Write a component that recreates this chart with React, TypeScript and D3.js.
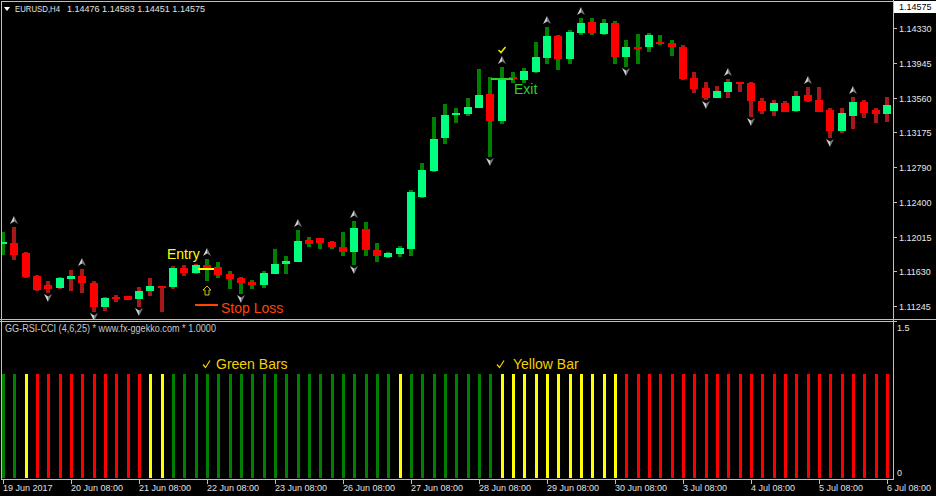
import React from 'react';
import * as d3 from 'd3';

const W = 936;
const H = 496;

// EURUSD H4, 79 bars: 19 Jun 2017 08:00 -> 6 Jul 2017 08:00
const opens = [
  1.11934, 1.11945, 1.11834, 1.11578, 1.11478, 1.11445, 1.11545, 1.11578, 1.11501, 1.11234,
  1.11345, 1.11356, 1.11323, 1.11412, 1.11467, 1.11456, 1.11667, 1.11612, 1.11701, 1.11678,
  1.11601, 1.11556, 1.11512, 1.11478, 1.11601, 1.11712, 1.11734, 1.11978, 1.12001, 1.11956,
  1.11901, 1.11845, 1.12101, 1.11867, 1.11789, 1.11823, 1.11878, 1.12456, 1.12745, 1.13112,
  1.13367, 1.13378, 1.13445, 1.13601, 1.13301, 1.13789, 1.13756, 1.13845, 1.14001, 1.14245,
  1.13989, 1.14278, 1.14401, 1.14267, 1.14389, 1.14012, 1.14123, 1.14123, 1.14178, 1.14167,
  1.14123, 1.13778, 1.13667, 1.13556, 1.13623, 1.13734, 1.13723, 1.13523, 1.13412, 1.13501,
  1.13412, 1.13589, 1.13534, 1.13423, 1.13189, 1.13356, 1.13512, 1.13423, 1.13378,
];
const highs = [
  1.12067, 1.12123, 1.11845, 1.11589, 1.11523, 1.11567, 1.11645, 1.11656, 1.11523, 1.11345,
  1.11367, 1.11356, 1.11456, 1.11556, 1.11467, 1.11689, 1.11701, 1.11712, 1.11767, 1.11734,
  1.11634, 1.11567, 1.11534, 1.11634, 1.11878, 1.11801, 1.12089, 1.12012, 1.12001, 1.11967,
  1.12067, 1.12189, 1.12178, 1.11945, 1.11845, 1.11912, 1.12534, 1.12834, 1.13345, 1.13489,
  1.13445, 1.13556, 1.13878, 1.13789, 1.13901, 1.13845, 1.13889, 1.14178, 1.14345, 1.14256,
  1.14312, 1.14445, 1.14445, 1.14434, 1.14412, 1.14201, 1.14267, 1.14278, 1.14256, 1.14201,
  1.14145, 1.13845, 1.13734, 1.13689, 1.13767, 1.13734, 1.13734, 1.13556, 1.13534, 1.13523,
  1.13634, 1.13678, 1.13678, 1.13445, 1.13445, 1.13567, 1.13534, 1.13445, 1.13567,
];
const lows = [
  1.11812, 1.11756, 1.11556, 1.11412, 1.11389, 1.11434, 1.11412, 1.11389, 1.11178, 1.11189,
  1.11289, 1.11312, 1.11234, 1.11356, 1.11178, 1.11434, 1.11578, 1.11601, 1.11523, 1.11556,
  1.11434, 1.11378, 1.11434, 1.11445, 1.11601, 1.11601, 1.11734, 1.11901, 1.11878, 1.11878,
  1.11801, 1.11701, 1.11801, 1.11734, 1.11778, 1.11789, 1.11801, 1.12445, 1.12734, 1.13045,
  1.13278, 1.13356, 1.13445, 1.12901, 1.13267, 1.13723, 1.13723, 1.13834, 1.13934, 1.13867,
  1.13934, 1.14256, 1.14256, 1.14256, 1.13934, 1.13901, 1.13934, 1.14067, 1.14145, 1.14023,
  1.13756, 1.13612, 1.13534, 1.13556, 1.13556, 1.13623, 1.13345, 1.13378, 1.13356, 1.13401,
  1.13401, 1.13512, 1.13401, 1.13112, 1.13167, 1.13212, 1.13334, 1.13278, 1.13289,
];
const closes = [
  1.11956, 1.11812, 1.11567, 1.11423, 1.11434, 1.11556, 1.11578, 1.11501, 1.11234, 1.11334,
  1.11323, 1.11312, 1.11412, 1.11467, 1.11445, 1.11667, 1.11612, 1.11701, 1.11667, 1.11589,
  1.11545, 1.11501, 1.11478, 1.11612, 1.11712, 1.11745, 1.11967, 1.11934, 1.11945, 1.11901,
  1.11845, 1.12112, 1.11867, 1.11801, 1.11834, 1.11889, 1.12512, 1.12756, 1.13101, 1.13367,
  1.13389, 1.13456, 1.13589, 1.13301, 1.13778, 1.13767, 1.13856, 1.14012, 1.14245, 1.13989,
  1.14289, 1.14389, 1.14278, 1.14389, 1.14012, 1.14123, 1.14112, 1.14256, 1.14156, 1.14123,
  1.13767, 1.13656, 1.13556, 1.13634, 1.13734, 1.13723, 1.13523, 1.13412, 1.13501, 1.13401,
  1.13578, 1.13523, 1.13401, 1.13189, 1.13389, 1.13512, 1.13389, 1.13378, 1.13478,
];

// wick overlay trend: u = dark green, d = dark red
const wickTrend = (
  'uddddddddd' + 'dddddddduu' + 'uuuuuuuuuu' + 'uuuuuuuuuu' +
  'uuuuuuuuuu' + 'uuuuuuuuuu' + 'dddddddddd' + 'ddddddddd'
).split('');

// GG-RSI-CCI histogram state per bar (G green, Y yellow, R red), all at 1.0
const ggState = (
  'GGYRRRRRRR' + 'RRRYYGGGGG' + 'GGGGGGGGGG' + 'GGGGGYGGGG' +
  'GGGGYYYYYY' + 'YYYYYRRRRR' + 'RRRRRRRRRR' + 'RRRRRRRRR'
).split('');
const ggValue = 1.0;

const upFractals = [1, 7, 18, 26, 31, 44, 48, 51, 64, 71, 75];
const downFractals = [4, 8, 12, 21, 31, 43, 55, 62, 66, 73];

const priceTicks = [1.1433, 1.13945, 1.1356, 1.13175, 1.1279, 1.124, 1.12015, 1.1163, 1.11245];
const priceTickLabels = ['1.14330', '1.13945', '1.13560', '1.13175', '1.12790', '1.12400', '1.12015', '1.11630', '1.11245'];
const lastPrice = 1.14575;

const dateBars = [0, 6, 12, 18, 24, 30, 36, 42, 48, 54, 60, 66, 72, 78];
const dateLabels = [
  '19 Jun 2017', '20 Jun 08:00', '21 Jun 08:00', '22 Jun 08:00', '23 Jun 08:00',
  '26 Jun 08:00', '27 Jun 08:00', '28 Jun 08:00', '29 Jun 08:00', '30 Jun 08:00',
  '3 Jul 08:00', '4 Jul 08:00', '5 Jul 08:00', '6 Jul 08:00',
];

// trade annotations
const entryBar = 18;
const entryPrice = 1.11667;
const stopPrice = 1.11267;
const exitBar = 44;
const exitPrice = 1.13778;

const FONT = '"Liberation Sans", Arial, sans-serif';
const GRID = '#c0c0c0';
const BULL = '#00ff7f';
const BEAR = '#ff0000';
const WICK_UP = '#008000';
const WICK_DN = '#a81818';
const GG_COLORS: Record<string, string> = { G: '#008000', Y: '#ffff00', R: '#ff0000' };

const upArrow = (cx: number, cy: number, key: string) => (
  <g key={key} transform={`translate(${cx},${cy})`} shapeRendering="auto">
    <path d="M0,-4 L0,1.5 L-4,4 Z" fill="#d0d0d0" />
    <path d="M0,-4 L4,4 L0,1.5 Z" fill="#7a7a7a" />
  </g>
);
const downArrow = (cx: number, cy: number, key: string) => (
  <g key={key} transform={`translate(${cx},${cy})`} shapeRendering="auto">
    <path d="M0,4 L0,-1.5 L-4,-4 Z" fill="#d0d0d0" />
    <path d="M0,4 L4,-4 L0,-1.5 Z" fill="#7a7a7a" />
  </g>
);

const App: React.FC = () => {
  const x = d3.scaleLinear().domain([0, opens.length - 1]).range([3, 887]);
  const y = d3.scaleLinear().domain([1.11245, 1.13945]).range([306, 63]);
  const yi = d3.scaleLinear().domain([0, 1.5]).range([478, 322]);
  const px = (i: number) => Math.round(x(i));
  const py = (v: number) => Math.round(y(v));

  const axisX = 893.5;

  return (
    <svg
      width={W}
      height={H}
      style={{ position: 'absolute', left: 0, top: 0, background: '#000' }}
      shapeRendering="crispEdges"
    >
      <defs>
        <clipPath id="mainClip">
          <rect x={2} y={2} width={891} height={317} />
        </clipPath>
        <clipPath id="indClip">
          <rect x={2} y={322} width={891} height={157} />
        </clipPath>
      </defs>
      <rect width={W} height={H} fill="#000" />

      {/* candles */}
      <g clipPath="url(#mainClip)">
        {opens.map((o, i) => {
          const c = closes[i];
          const cx = px(i);
          const top = py(Math.max(o, c));
          const bot = py(Math.min(o, c));
          const hi = py(highs[i]);
          const lo = py(lows[i]);
          return (
            <g key={i}>
              <rect x={cx - 2} y={hi} width={4} height={Math.max(1, lo - hi)}
                fill={wickTrend[i] === 'u' ? WICK_UP : WICK_DN} />
              <rect x={cx - 4} y={top} width={8} height={Math.max(2, bot - top)}
                fill={c >= o ? BULL : BEAR} />
            </g>
          );
        })}
        {upFractals.map((i) => upArrow(px(i), py(highs[i]) - 7, `u${i}`))}
        {downFractals.map((i) => downArrow(px(i), py(lows[i]) + 5, `d${i}`))}

        {/* entry */}
        <line x1={px(entryBar) - 9} x2={px(entryBar) + 7} y1={py(entryPrice) + 0.5} y2={py(entryPrice) + 0.5}
          stroke="#ffff00" strokeWidth={2} />
        <text x={px(entryBar) - 40} y={259} fill="#ffff00" fontFamily={FONT} fontSize={14}>Entry</text>
        <path
          transform={`translate(${px(entryBar)},${py(entryPrice) + 23})`}
          d="M0,-5 L4,-1 L2,-1 L2,4 L-2,4 L-2,-1 L-4,-1 Z"
          fill="none" stroke="#c8c800" strokeWidth={1} shapeRendering="auto"
        />
        <line x1={px(entryBar) - 12} x2={px(entryBar) + 11} y1={py(stopPrice) + 0.5} y2={py(stopPrice) + 0.5}
          stroke="#ff4500" strokeWidth={2} />
        <text x={px(entryBar) + 14} y={313} fill="#ff4500" fontFamily={FONT} fontSize={14}>Stop Loss</text>

        {/* exit */}
        <line x1={px(exitBar) - 11} x2={px(exitBar) + 11} y1={py(exitPrice) + 0.5} y2={py(exitPrice) + 0.5}
          stroke="#32cd32" strokeWidth={2} />
        <text x={px(exitBar) + 12} y={94} fill="#32cd32" fontFamily={FONT} fontSize={14}>Exit</text>
        <path
          transform={`translate(${px(exitBar)},${py(highs[exitBar]) - 17})`}
          d="M-3.5,0 L-1,2.5 L3.5,-3"
          fill="none" stroke="#e8e800" strokeWidth={1.6} shapeRendering="auto"
        />
      </g>

      {/* GG-RSI-CCI histogram */}
      <g clipPath="url(#indClip)">
        {ggState.map((s, i) => (
          <rect key={i} x={px(i) - 1} y={Math.round(yi(ggValue))} width={3}
            height={Math.round(yi(0)) - Math.round(yi(ggValue))} fill={GG_COLORS[s]} />
        ))}
      </g>
      <text x={5} y={332} fill="#c8c8c8" fontFamily={FONT} fontSize={10} textLength={211} lengthAdjust="spacingAndGlyphs">
        GG-RSI-CCI (4,6,25) * www.fx-ggekko.com *  1.0000
      </text>
      <path d="M203,364.5 L205.5,367.5 L210,360.5" fill="none" stroke="#f2d000" strokeWidth={1.2} shapeRendering="auto" />
      <text x={216} y={369} fill="#f2d000" fontFamily={FONT} fontSize={14}>Green Bars</text>
      <path d="M497,364.5 L499.5,367.5 L504,360.5" fill="none" stroke="#f2d000" strokeWidth={1.2} shapeRendering="auto" />
      <text x={513} y={369} fill="#f2d000" fontFamily={FONT} fontSize={14}>Yellow Bar</text>

      {/* frame */}
      <line x1={1} x2={axisX} y1={1.5} y2={1.5} stroke={GRID} />
      <line x1={1.5} x2={1.5} y1={1} y2={480} stroke={GRID} />
      <line x1={axisX} x2={axisX} y1={0} y2={480} stroke={GRID} />
      <line x1={0} x2={W} y1={319.5} y2={319.5} stroke={GRID} />
      <line x1={0} x2={axisX + 3} y1={321.5} y2={321.5} stroke={GRID} />
      <line x1={1} x2={axisX} y1={479.5} y2={479.5} stroke={GRID} />

      {/* header */}
      <path d="M4,7 L10,7 L7,11 Z" fill="#ffffff" shapeRendering="auto" />
      <text x={15} y={12} fill="#e0e0e0" fontFamily={FONT} fontSize={9} textLength={45} lengthAdjust="spacingAndGlyphs">EURUSD,H4</text>
      <text x={67} y={12} fill="#e0e0e0" fontFamily={FONT} fontSize={9} textLength={138} lengthAdjust="spacingAndGlyphs">
        1.14476 1.14583 1.14451 1.14575
      </text>

      {/* price axis */}
      {priceTicks.map((v, k) => (
        <g key={k}>
          <line x1={axisX} x2={axisX + 3} y1={py(v) + 0.5} y2={py(v) + 0.5} stroke={GRID} />
          <text x={899} y={py(v) + 4} fill="#e6e6e6" fontFamily={FONT} fontSize={9}>{priceTickLabels[k]}</text>
        </g>
      ))}
      <rect x={894.5} y={py(lastPrice) - 4.5} width={41} height={11} fill="#ffffff" stroke="#ffffff" />
      <text x={899} y={py(lastPrice) + 4} fill="#000" fontFamily={FONT} fontSize={9}>1.14575</text>

      {/* indicator axis */}
      <text x={897} y={331} fill="#e6e6e6" fontFamily={FONT} fontSize={9}>1.5</text>
      <text x={897} y={476} fill="#e6e6e6" fontFamily={FONT} fontSize={9}>0</text>

      {/* time axis */}
      {dateBars.map((b, k) => (
        <g key={k}>
          <line x1={px(b) + 0.5} x2={px(b) + 0.5} y1={479} y2={484} stroke={GRID} />
          <text x={px(b)} y={491} fill="#e0e0e0" fontFamily={FONT} fontSize={9}>{dateLabels[k]}</text>
        </g>
      ))}
    </svg>
  );
};

export default App;
